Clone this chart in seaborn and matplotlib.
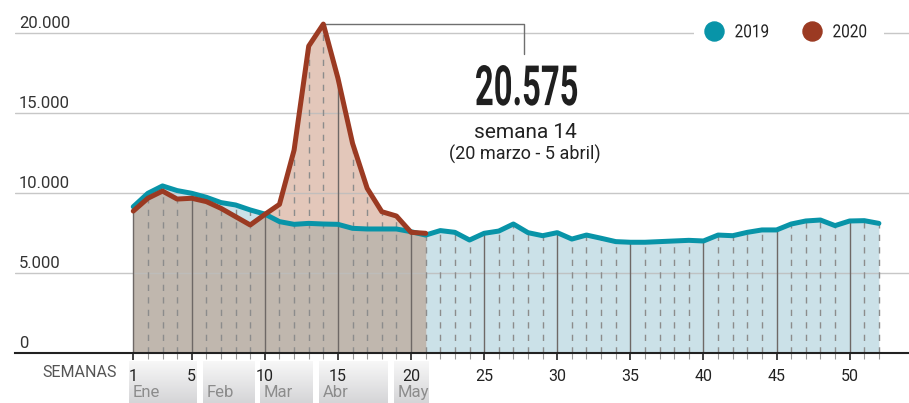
import numpy as np
import pandas as pd
import matplotlib
matplotlib.use("Agg")
import matplotlib.pyplot as plt
import seaborn as sns
from matplotlib.lines import Line2D
from matplotlib.patheffects import AbstractPathEffect
from matplotlib.transforms import Affine2D, offset_copy

# weekly deaths
weeks_2019 = list(range(1, 53))
deaths_2019 = [9160, 10000, 10460, 10170, 10000, 9750, 9420, 9270, 8960, 8700,
               8230, 8060, 8120, 8080, 8060, 7810, 7770, 7770, 7770, 7600,
               7390, 7670, 7560, 7080, 7500, 7640, 8080, 7540, 7350, 7540,
               7140, 7390, 7190, 6980, 6940, 6940, 6980, 7020, 7060, 7020,
               7390, 7350, 7560, 7710, 7710, 8080, 8270, 8330, 7980, 8270,
               8290, 8120]
weeks_2020 = list(range(1, 22))
deaths_2020 = [8890, 9690, 10140, 9640, 9690, 9480, 9060, 8540, 8020, 8680,
               9310, 12700, 19200, 20575, 17190, 13120, 10310, 8850, 8580, 7560,
               7500]

peak_dates = "(20 marzo - 5 abril)"
y_ticks = [0, 5000, 10000, 15000, 20000]
y_labels = ["0", "5.000", "10.000", "15.000", "20.000"]
x_ticks = [1, 5, 10, 15, 20, 25, 30, 35, 40, 45, 50]
months = ["Ene", "Feb", "Mar", "Abr", "May"]
month_weeks = [(0.71, 5.36), (5.77, 9.32), (9.67, 13.29), (13.7, 18.4), (18.85, 21.18)]

C19 = "#0894a8"
C20 = "#9b3a22"
BLUE_FILL = "#cbe1e8"
PINK_FILL = "#e3c7ba"
GRAY_FILL = "#c0b7ae"


class Condense(AbstractPathEffect):
    """Squeeze glyphs horizontally around the start of the text line."""

    def __init__(self, sx):
        super().__init__()
        self.sx = sx

    def draw_path(self, renderer, gc, tpath, affine, rgbFace=None):
        m = affine.get_matrix().copy()
        tx = m[0, 2]
        squeezed = Affine2D(m).translate(-tx, 0).scale(self.sx, 1).translate(tx, 0)
        renderer.draw_path(gc, tpath, squeezed, rgbFace)


sns.set_theme(style="white")
plt.rcParams["font.family"] = ["Roboto", "DejaVu Sans"]

fig = plt.figure(figsize=(9.09, 4.03), dpi=100)
ax = fig.add_axes([15 / 909, (403 - 353.3) / 403, 894 / 909, 353.3 / 403])

v19 = np.array(deaths_2019)
v20 = np.array(deaths_2020)
n20 = len(v20)

# area fills: 2019 light blue, 2020 pink, overlap gray-brown
ax.fill_between(weeks_2019, 0, v19, color=BLUE_FILL, lw=0, zorder=1)
ax.fill_between(weeks_2020, 0, v20, color=PINK_FILL, lw=0, zorder=1.1)
ax.fill_between(weeks_2020, 0, np.minimum(v20, v19[:n20]), color=GRAY_FILL, lw=0, zorder=1.2)

for y in y_ticks[1:]:
    ax.axhline(y, color="#bdbdbd", lw=1, alpha=0.85, zorder=1.5)

# week markers inside the area
tops = v19.copy()
tops[:n20] = np.maximum(tops[:n20], v20)
wk = np.array(weeks_2019)
solid = (wk == 1) | (wk % 5 == 0)
ax.vlines(wk[solid], 0, tops[solid], colors="#6e6866", lw=1, zorder=1.6)
ax.vlines(wk[~solid], 0, tops[~solid], colors="#8c8c8c", lw=1,
          linestyles=(0, (4.5, 4.5)), zorder=1.6)

df = pd.concat([
    pd.DataFrame({"semana": weeks_2019, "defunciones": deaths_2019, "anio": "2019"}),
    pd.DataFrame({"semana": weeks_2020, "defunciones": deaths_2020, "anio": "2020"}),
])
sns.lineplot(data=df, x="semana", y="defunciones", hue="anio",
             palette={"2019": C19, "2020": C20}, lw=3.6, legend=False,
             ax=ax, zorder=3, solid_capstyle="round")

# peak annotation
peak_i = int(np.argmax(v20))
peak_week = weeks_2020[peak_i]
peak_value = deaths_2020[peak_i]
ax.plot([peak_week, 27.72, 27.72], [peak_value, peak_value, 18706],
        color="#6f6f6f", lw=1, zorder=2.8)
big = ax.text(24.37, 16450, f"{peak_value:,}".replace(",", "."), ha="left", va="center",
              fontsize=40, fontweight="bold", color="#1f1f1f")
big.set_path_effects([Condense(0.59)])
ax.text(27.79, 13770, f"semana {peak_week}", ha="center", va="center",
        fontsize=15, color="#222222")
ax.text(27.79, 12400, peak_dates, ha="center", va="center",
        fontsize=13, color="#222222")

# y labels sit above their gridlines
ytr = offset_copy(ax.get_yaxis_transform(), fig=fig, x=4, y=5.5, units="dots")
for v, lab in zip(y_ticks, y_labels):
    ax.text(0, v, lab, transform=ytr, ha="left", va="baseline",
            fontsize=12, color="#333333")

ax.set_yticks([])
ax.set_xticks(x_ticks)
ax.set_xticklabels([str(t) for t in x_ticks])
ax.set_xticks([w for w in weeks_2019 if w not in x_ticks], minor=True)
ax.tick_params(axis="x", which="major", bottom=True, length=5, width=1.2,
               color="#222222", pad=6, labelsize=11.5, labelcolor="#222222")
ax.tick_params(axis="x", which="minor", bottom=True, length=4, width=0.8,
               color="#999999")
ax.set_xlabel("")
ax.set_ylabel("")
for s in ["left", "right", "top"]:
    ax.spines[s].set_visible(False)
ax.spines["bottom"].set_color("#222222")
ax.spines["bottom"].set_linewidth(1.5)

# month boxes under the week labels
grad = np.linspace([0.97, 0.97, 0.97], [0.82, 0.82, 0.83], 60).reshape(60, 1, 3)
for (x0, x1), name in zip(month_weeks, months):
    ax.imshow(grad, extent=(x0, x1, -3400, -525), aspect="auto", origin="upper",
              clip_on=False, zorder=0.5, interpolation="bilinear")
    ax.text(x0 + 0.25, -2420, name, ha="left", va="center",
            fontsize=12, color="#8c8c8c")
ax.text(-0.12, -1231, "SEMANAS", ha="right", va="center", fontsize=11.5, color="#555555")

ax.set_xlim(-7.09, 54.06)
ax.set_ylim(0, 22081)

handles = [Line2D([], [], marker="o", ls="", ms=13.7, color=C19, label="2019"),
           Line2D([], [], marker="o", ls="", ms=13.7, color=C20, label="2020")]
leg = ax.legend(handles=handles, loc="center left",
                bbox_to_anchor=(694 / 909, 1 - 32.3 / 403), bbox_transform=fig.transFigure,
                ncol=2, frameon=True, facecolor="white", edgecolor="none", framealpha=1,
                fancybox=False, handlelength=1.0, handletextpad=0.65, columnspacing=1.53,
                borderpad=0.6, borderaxespad=0,
                prop={"family": ["Roboto", "DejaVu Sans"], "size": 13})
leg.set_zorder(5)
for t in leg.get_texts():
    t.set_color("#222222")
    t.set_path_effects([Condense(0.85)])

fig.savefig("out.png", dpi=100)
